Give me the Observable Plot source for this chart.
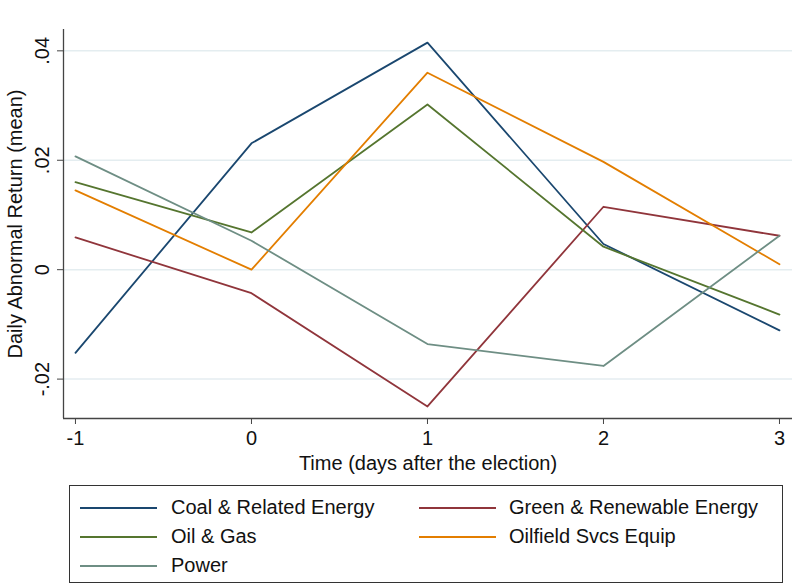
<!DOCTYPE html>
<html>
<head>
<meta charset="utf-8">
<script src="https://cdn.jsdelivr.net/npm/d3@7"></script>
<script src="https://cdn.jsdelivr.net/npm/@observablehq/plot@0.6"></script>
<style>
  html, body { margin: 0; padding: 0; background: #fff; }
  #wrap { position: relative; width: 811px; height: 586px; font-family: "Liberation Sans", Arial, sans-serif; }
  #legend { position: absolute; left: 69px; top: 485px; width: 714px; height: 98px; border: 1px solid #333; box-sizing: border-box; }
  .item { position: absolute; font-size: 20px; color: #111; line-height: 22px; white-space: nowrap; }
  .sw { position: absolute; height: 0; border-top: 2px solid; }
</style>
</head>
<body>
<div id="wrap">
  <div id="chart"></div>
  <div id="legend"></div>
</div>
<script>
const days = [-1, 0, 1, 2, 3];
const coal     = [-0.0152, 0.0231, 0.0415, 0.0047, -0.0111];
const green    = [0.0059, -0.0043, -0.0250, 0.0115, 0.0062];
const oilGas   = [0.0160, 0.0068, 0.0302, 0.0042, -0.0082];
const oilfield = [0.0145, 0.0000, 0.0360, 0.0197, 0.0010];
const power    = [0.0207, 0.0053, -0.0136, -0.0176, 0.0062];

const seriesNames = ["Coal & Related Energy", "Green & Renewable Energy", "Oil & Gas", "Oilfield Svcs Equip", "Power"];
const seriesValues = [coal, green, oilGas, oilfield, power];
const seriesColors = ["#1a476f", "#90353b", "#55752f", "#e37e00", "#6e8e84"];

const yTicks = [-0.02, 0, 0.02, 0.04];
const yTickLabels = ["-.02", "0", ".02", ".04"];
const xTicks = [-1, 0, 1, 2, 3];
const xTickLabels = ["-1", "0", "1", "2", "3"];
const xTitle = "Time (days after the election)";
const yTitle = "Daily Abnormal Return (mean)";

const data = [];
seriesNames.forEach((name, s) => {
  days.forEach((d, i) => data.push({series: name, day: d, value: seriesValues[s][i]}));
});

const xDomain = [-1.068, 3.074];
const yDomain = [-0.0272, 0.0439];
const yLab = new Map(yTicks.map((t, i) => [t, yTickLabels[i]]));
const xLab = new Map(xTicks.map((t, i) => [t, xTickLabels[i]]));

const chart = Plot.plot({
  width: 811,
  height: 480,
  marginTop: 29,
  marginBottom: 62,
  marginLeft: 63,
  marginRight: 19,
  style: {fontFamily: "'Liberation Sans', Arial, sans-serif", fontSize: "20px", background: "#fff", color: "#111"},
  x: {domain: xDomain},
  y: {domain: yDomain},
  color: {domain: seriesNames, range: seriesColors},
  marks: [
    Plot.gridY(yTicks, {stroke: "#e4edf0", strokeOpacity: 1, strokeWidth: 1.5}),
    Plot.line(data, {x: "day", y: "value", z: "series", stroke: "series", strokeWidth: 1.8}),
    Plot.ruleX([xDomain[0]], {stroke: "#444", strokeWidth: 1.3}),
    Plot.ruleY([yDomain[0]], {stroke: "#444", strokeWidth: 1.3}),
    Plot.axisY(yTicks, {tickFormat: d => yLab.get(d), tickSize: 6, tickPadding: 9, tickRotate: -90, textAnchor: "middle", lineAnchor: "bottom", stroke: "#444", label: null, fontSize: 20}),
    Plot.axisX(xTicks, {tickFormat: d => xLab.get(d), tickSize: 6, tickPadding: 6, stroke: "#444", label: null, fontSize: 20}),
    Plot.text([xTitle], {frameAnchor: "bottom", dy: 45, lineAnchor: "middle", fontSize: 20}),
    Plot.text([yTitle], {frameAnchor: "left", dx: -48, rotate: -90, textAnchor: "middle", lineAnchor: "middle", fontSize: 20})
  ]
});
document.getElementById("chart").appendChild(chart);

// legend
const legend = document.getElementById("legend");
const colX = [[10, 101], [349, 439]];
const rowY = [22, 51, 80];
seriesNames.forEach((name, i) => {
  const col = i % 2, row = Math.floor(i / 2);
  const sw = document.createElement("div");
  sw.className = "sw";
  sw.style.left = colX[col][0] + "px";
  sw.style.width = "77px";
  sw.style.top = (rowY[row] - 1) + "px";
  sw.style.borderTopColor = seriesColors[i];
  legend.appendChild(sw);
  const t = document.createElement("div");
  t.className = "item";
  t.textContent = name;
  t.style.left = colX[col][1] + "px";
  t.style.top = (rowY[row] - 12) + "px";
  legend.appendChild(t);
});
</script>
</body>
</html>
